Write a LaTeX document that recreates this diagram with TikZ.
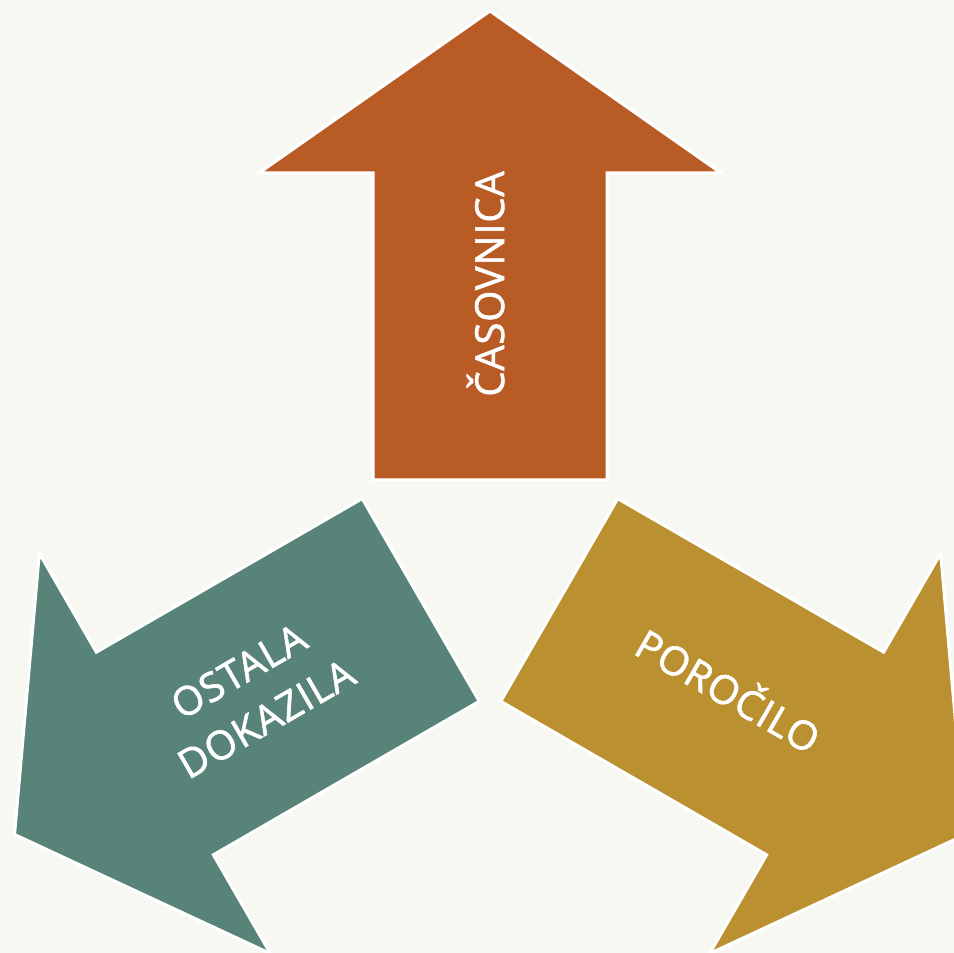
\documentclass[tikz,border=0pt]{standalone}
\usepackage{fontspec}
\setmainfont{Open Sans}
\newfontfamily\lblfont{Open Sans}[FakeBold=1.5, LetterSpace=2]
\definecolor{bgc}{RGB}{248,248,243}
\definecolor{orangec}{RGB}{185,91,36}
\definecolor{tealc}{RGB}{87,131,121}
\definecolor{goldc}{RGB}{186,144,48}
\tikzset{
  arrowshape/.style={draw=white, line width=3pt, line join=miter},
  lbl/.style={text=white, font=\lblfont\fontsize{40}{55}\selectfont, align=center, inner sep=0pt, text height=28pt, text depth=0pt}
}
\newcommand{\bigarrow}[2]{%
  \begin{scope}[shift={(490,393)}, rotate=#1]
    \fill[#2] (80,117) -- (387,117) -- (387,231) -- (549,0) -- (387,-231) -- (387,-117) -- (80,-117) -- cycle;
    \draw[arrowshape] (80,117) -- (387,117) -- (387,231) -- (549,0) -- (387,-231) -- (387,-117) -- (80,-117) -- cycle;
  \end{scope}}
\begin{document}
\begin{tikzpicture}[x=1pt,y=1pt]
\useasboundingbox (0,0) rectangle (954,953);
\clip (0,0) rectangle (954,953);
\fill[bgc] (0,0) rectangle (954,953);
\coordinate (c) at (490,393);
\bigarrow{90}{orangec}
\bigarrow{210}{tealc}
\bigarrow{330}{goldc}
\node[lbl, rotate=90] (t1) at ([shift={(90:276)}]c) {ČASOVNICA};
\node[lbl, rotate=30] (t2) at ([shift={(210:271)}, xshift=11, yshift=-23.5]c) {OSTALA\\DOKAZILA};
\node[lbl, rotate=-30] (t3) at ([shift={(330:272)}, xshift=2, yshift=4]c) {POROČILO};
\end{tikzpicture}
\end{document}
